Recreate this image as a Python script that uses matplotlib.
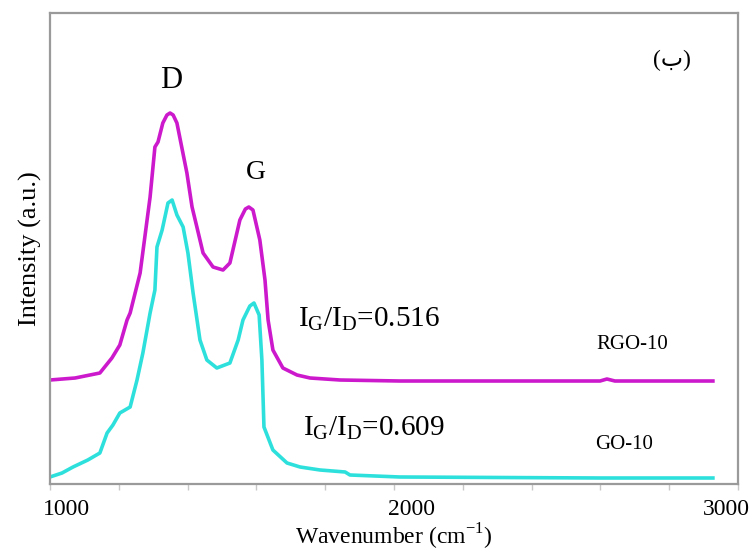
import numpy as np
import matplotlib
matplotlib.use("Agg")
from matplotlib import pyplot as plt
from matplotlib.transforms import ScaledTranslation

plt.rcParams['font.family'] = ['Liberation Serif', 'DejaVu Sans']
plt.rcParams['mathtext.fontset'] = 'custom'
plt.rcParams['mathtext.rm'] = 'Liberation Serif'

# Raman spectra, intensity in arbitrary units
rgo_wn = [1000, 1073, 1145, 1180, 1203, 1224, 1233, 1262, 1291, 1305, 1314, 1328,
          1340, 1349, 1358, 1369, 1398, 1413, 1427, 1445, 1474, 1503, 1523, 1552,
          1568, 1578, 1590, 1610, 1625, 1634, 1648, 1677, 1718, 1756, 1843, 2017,
          2308, 2599, 2619, 2642, 2927]
rgo_int = [104, 106, 111, 126, 139, 164, 171, 211, 287, 337, 342, 361,
           369, 371, 369, 361, 311, 277, 257, 231, 217, 214, 221, 264,
           275, 277, 274, 244, 204, 164, 134, 116, 109, 106, 104, 103,
           103, 103, 105, 103, 103]

go_wn = [1000, 1035, 1067, 1110, 1145, 1166, 1183, 1203, 1233, 1253, 1270, 1291,
         1305, 1311, 1326, 1343, 1355, 1369, 1387, 1401, 1416, 1436, 1456, 1485,
         1523, 1547, 1561, 1581, 1593, 1608, 1616, 1622, 1648, 1689, 1727, 1785,
         1858, 1872, 2017, 2599, 2927]
go_int = [7, 11, 17, 24, 31, 51, 59, 71, 77, 104, 131, 171,
          194, 237, 254, 281, 284, 269, 257, 231, 191, 144, 124, 116,
          121, 144, 164, 178, 181, 169, 124, 57, 34, 21, 17, 14,
          12, 9, 7, 6, 6]

xticks = [1000, 2000, 3000]
xtick_labels = ['1000', '2000', '3000']
ratio_rgo = 0.516
ratio_go = 0.609

fig = plt.figure(figsize=(7.55, 5.56), dpi=100)
ax = fig.add_axes([0.0662, 0.1295, 0.9113, 0.8471])

ax.plot(rgo_wn, rgo_int, color='#cc19cc', lw=2.6, solid_joinstyle='round')
ax.plot(go_wn, go_int, color='#2ee0dc', lw=2.6, solid_joinstyle='round')

ax.set_xlim(1000, 3000)
ax.set_ylim(0, 471)
ax.set_yticks([])

ax.set_xticks(xticks)
ax.set_xticklabels(xtick_labels, fontsize=17)
ax.set_xticks(np.arange(1200, 3000, 200), minor=True)
ax.tick_params(axis='x', which='both', direction='out', length=4, width=1,
               color='#c8c8c8', pad=7)
# shift the tick labels sideways a little
for lab, dx in zip(ax.get_xticklabels(), [17, 18, -12]):
    lab.set_transform(lab.get_transform() + ScaledTranslation(dx / 100, 0, fig.dpi_scale_trans))

for sp in ax.spines.values():
    sp.set_color('#9a9a9a')
    sp.set_linewidth(1.6)

ax.set_xlabel('Wavenumber (cm$^{-1}$)', fontsize=17, labelpad=1)
ax.set_ylabel('Intensity (a.u.)', fontsize=19, labelpad=6)

ax.text(1352, 404, 'D', fontsize=22, ha='center', va='center')
ax.text(1599, 312, 'G', fontsize=20, ha='center', va='center')
ax.text(2808, 424, '(ب)', fontsize=17, ha='center', va='center')
ax.text(1721, 157, r'$\mathrm{I_G/I_D}$=%.3f' % ratio_rgo, fontsize=21,
        ha='left', va='baseline')
ax.text(1735, 48, r'$\mathrm{I_G/I_D}$=%.3f' % ratio_go, fontsize=21,
        ha='left', va='baseline')
ax.text(2692, 140, 'RGO-10', fontsize=15, ha='center', va='center')
ax.text(2669, 39, 'GO-10', fontsize=15, ha='center', va='center')

fig.savefig('out.png', dpi=100)
